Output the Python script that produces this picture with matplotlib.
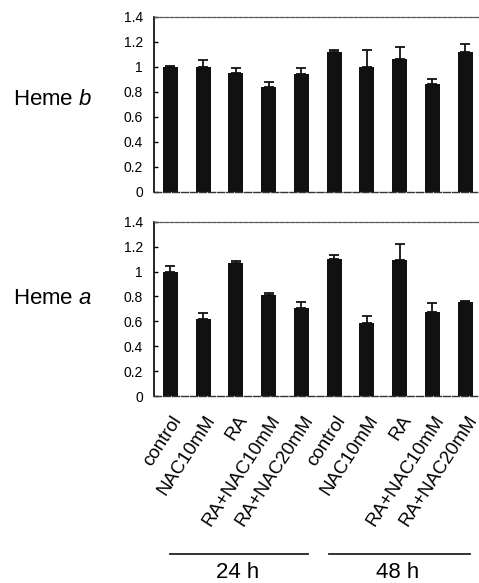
import matplotlib
matplotlib.use('Agg')
import matplotlib.pyplot as plt
import matplotlib.transforms as mtransforms
import numpy as np

plt.rcParams['font.family'] = ['Liberation Sans', 'DejaVu Sans']
plt.rcParams['mathtext.fontset'] = 'custom'
plt.rcParams['mathtext.rm'] = 'Liberation Sans'
plt.rcParams['mathtext.it'] = 'Liberation Sans:italic'

# data
groups = ['control', 'NAC10mM', 'RA', 'RA+NAC10mM', 'RA+NAC20mM',
          'control', 'NAC10mM', 'RA', 'RA+NAC10mM', 'RA+NAC20mM']
heme_b = [1.00, 1.00, 0.95, 0.84, 0.94, 1.12, 1.00, 1.06, 0.86, 1.12]
heme_b_err = [0.005, 0.056, 0.04, 0.04, 0.05, 0.016, 0.13, 0.096, 0.045, 0.064]
heme_a = [1.00, 0.615, 1.066, 0.814, 0.704, 1.10, 0.584, 1.09, 0.675, 0.753]
heme_a_err = [0.046, 0.053, 0.02, 0.013, 0.05, 0.03, 0.06, 0.128, 0.075, 0.013]
yticks = [0, 0.2, 0.4, 0.6, 0.8, 1.0, 1.2, 1.4]
ytick_labels = ['0', '0.2', '0.4', '0.6', '0.8', '1', '1.2', '1.4']
time_labels = ['24 h', '48 h']

W, H = 479, 583
fig = plt.figure(figsize=(W / 100, H / 100), dpi=100)

ax_w = (481.6 - 154) / W
ax_b = fig.add_axes([154 / W, (H - 191.7) / H, ax_w, 175 / H])
ax_a = fig.add_axes([154 / W, (H - 396) / H, ax_w, 174.3 / H])

x = np.arange(len(groups))


def draw_panel(ax, vals, errs):
    errs = np.array(errs)
    ax.bar(x, vals, width=0.46, color='#111111', zorder=2)
    ax.errorbar(x, vals, yerr=[np.zeros_like(errs), errs], fmt='none',
                ecolor='#111111', elinewidth=1.3, capsize=3.5, capthick=1.3, zorder=3)
    ax.set_xlim(-0.5, 9.5)
    ax.set_ylim(0, 1.4)
    ax.set_yticks(yticks)
    ax.set_yticklabels(ytick_labels, fontsize=10)
    ax.tick_params(axis='y', direction='in', length=3, width=1, pad=8)
    ax.spines['right'].set_visible(False)
    ax.spines['left'].set_linewidth(1.2)
    ax.spines['top'].set_linestyle((0, (3, 1.2)))
    ax.spines['top'].set_color('#555555')
    ax.spines['top'].set_linewidth(0.9)
    ax.spines['bottom'].set_linestyle((0, (5, 1.5)))
    ax.spines['bottom'].set_color('#333333')
    ax.spines['bottom'].set_linewidth(1.0)


draw_panel(ax_b, heme_b, heme_b_err)
draw_panel(ax_a, heme_a, heme_a_err)

ax_b.set_xticks([])
ax_a.set_xticks(x)
ax_a.set_xticklabels(groups, rotation=57, ha='right', va='center',
                     rotation_mode='anchor', fontsize=13.5)
ax_a.tick_params(axis='x', length=0, pad=0)
offset = mtransforms.ScaledTranslation(8 / 100, -21 / 100, fig.dpi_scale_trans)
for lab in ax_a.get_xticklabels():
    lab.set_transform(lab.get_transform() + offset)

# group lines under the labels
trans = mtransforms.blended_transform_factory(ax_a.transData, ax_a.transAxes)
for (x0, x1), lab in zip([(0.0, 4.2), (4.85, 9.15)], time_labels):
    ax_a.plot([x0, x1], [-0.906, -0.906], transform=trans, color='#222222',
              lw=1.3, clip_on=False)
    ax_a.text((x0 + x1) / 2 - 0.05, -1.01, lab, transform=trans, ha='center',
              va='center', fontsize=16)

fig.text(13 / W, (H - 99.5) / H, 'Heme $\\mathit{b}$', fontsize=16, ha='left', va='center')
fig.text(13 / W, (H - 299) / H, 'Heme $\\mathit{a}$', fontsize=16, ha='left', va='center')

fig.savefig('out.png', dpi=100)
